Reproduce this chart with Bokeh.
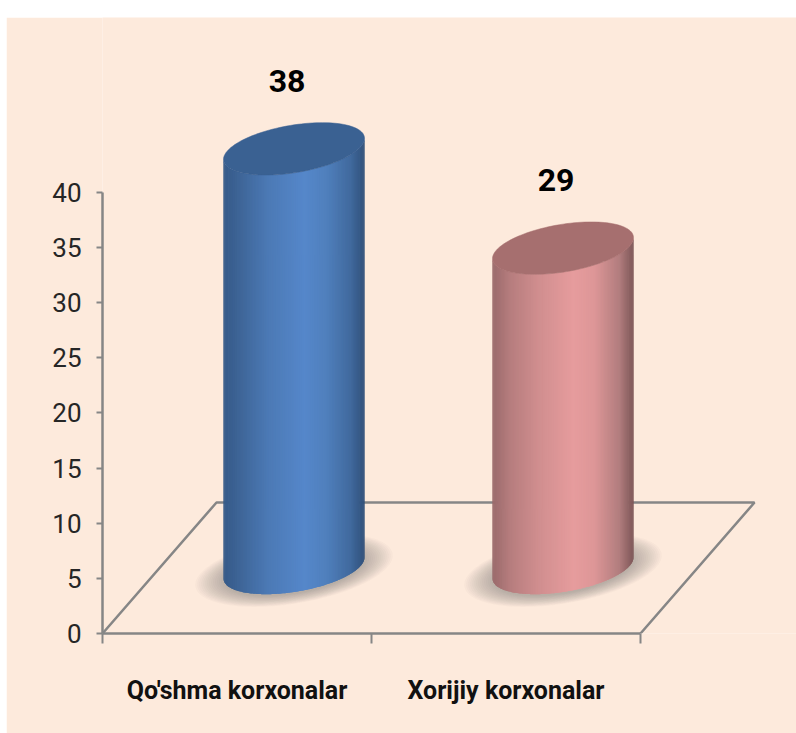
import numpy as np
from bokeh.plotting import figure
from bokeh.models import Range1d, FixedTicker, LinearAxis
from bokeh.core.properties import value
from bokeh.embed import file_html
from bokeh.resources import INLINE

categories = ["Qo'shma korxonalar", "Xorijiy korxonalar"]
values = [38, 29]
y_ticks = [0, 5, 10, 15, 20, 25, 30, 35, 40]

PEACH = "#fdeadc"
AXIS = "#868686"
FONT = "Roboto"

# pixel scale of the plot
PX_X = 269.0   # px per category
PX_Y = 11.03   # px per value unit
FRAME_W, FRAME_H = 694, 616

# floor depth and cylinder shape (px converted to data units)
floor_dx = 114 / PX_X
floor_dy = 131 / PX_Y
rad_x = 70.5 / PX_X
tilt = 10.5 / PX_Y
rad_y = 24.0 / PX_Y

# gradient stops: position across the cylinder (-1..1) -> colour
stops_u = [-1.0, -0.75, -0.35, 0.15, 0.45, 0.8, 1.0]
body_stops = [
    ["#355a88", "#3f6699", "#4c7ab6", "#5587ca", "#5080bd", "#416a9e", "#30507a"],
    ["#9a6a6b", "#b67d7e", "#d08e8f", "#e69c9d", "#dd9697", "#b17d7e", "#7d5657"],
]
cap_colors = ["#3a6192", "#a66f6f"]


def hex2rgb(c):
    return np.array([int(c[i:i + 2], 16) for i in (1, 3, 5)], float)


def grad(stops, u):
    arr = np.array([hex2rgb(s) for s in stops])
    rgb = [np.interp(u, stops_u, arr[:, k]) for k in range(3)]
    return "#%02x%02x%02x" % tuple(int(round(v)) for v in rgb)


p = figure(
    width=790, height=716, output_backend="svg", toolbar_location=None,
    x_range=Range1d(0, FRAME_W / PX_X), y_range=Range1d(0, FRAME_H / PX_Y),
    x_axis_location=None, y_axis_location=None,
    min_border_left=96, min_border_right=0, min_border_top=0, min_border_bottom=100,
    background_fill_color=PEACH, border_fill_color=PEACH, outline_line_color=None,
)
p.margin = (17, 0, 0, 6)
p.grid.visible = False

# floor outline
n_cat = len(categories)
p.line([0, floor_dx, n_cat + floor_dx, n_cat], [0, floor_dy, floor_dy, 0],
       line_color=AXIS, line_width=2.5)

# axes
yax = LinearAxis(ticker=FixedTicker(ticks=y_ticks), bounds=(0, 40))
yax.axis_line_color = AXIS
yax.axis_line_width = 2.5
yax.major_tick_line_color = AXIS
yax.major_tick_line_width = 2
yax.major_tick_in = 0
yax.major_tick_out = 6
yax.minor_tick_line_color = None
yax.major_label_text_font = FONT
yax.major_label_text_font_size = "26px"
yax.major_label_text_color = "#262626"
yax.major_label_standoff = 15
p.add_layout(yax, "left")

centers = [i + 0.5 for i in range(n_cat)]
xax = LinearAxis(ticker=FixedTicker(ticks=centers, minor_ticks=list(range(n_cat + 1))),
                 bounds=(0, n_cat))
xax.major_label_overrides = {c: t for c, t in zip(centers, categories)}
xax.axis_line_color = AXIS
xax.axis_line_width = 2.5
xax.major_tick_line_color = None
xax.major_tick_in = 0
xax.major_tick_out = 0
xax.minor_tick_line_color = AXIS
xax.minor_tick_line_width = 2
xax.minor_tick_in = 0
xax.minor_tick_out = 10
xax.major_label_text_font = FONT
xax.major_label_text_font_size = "25px"
xax.major_label_text_font_style = "bold"
xax.major_label_text_color = "#111111"
xax.major_label_standoff = 32
p.add_layout(xax, "below")

# cylinders
th_full = np.linspace(0, 2 * np.pi, 121)
th_arc = np.linspace(np.pi, 0, 121)
for i, v in enumerate(values):
    cx = centers[i] + floor_dx / 2
    y_base = floor_dy / 2
    y_top = y_base + v

    # soft shadow on the floor
    for k in range(16):
        s = 1.40 - k * 0.028
        p.patch(cx + rad_x * s * np.cos(th_full),
                y_base - 0.2 + tilt * s * np.cos(th_full) + rad_y * s * np.sin(th_full),
                fill_color="#6b6050", fill_alpha=0.03, line_color=None)

    # body as thin vertical strips carrying the shading; each strip runs under the next one
    u = np.cos(th_arc)
    lower = -rad_y * np.sin(th_arc) + tilt * u
    xs, ys, cols = [], [], []
    for j in range(len(th_arc) - 1):
        e = min(j + 3, len(th_arc))
        xr = cx + rad_x * u[j:e]
        xs.append(np.concatenate([xr, xr[::-1]]))
        ys.append(np.concatenate([y_top + lower[j:e], (y_base + lower[j:e])[::-1]]))
        cols.append(grad(body_stops[i], (u[j] + u[j + 1]) / 2))
    p.patches(xs, ys, fill_color=cols, line_color=None)

    # top cap
    p.patch(cx + rad_x * np.cos(th_full),
            y_top + tilt * np.cos(th_full) + rad_y * np.sin(th_full),
            fill_color=cap_colors[i], line_color=cap_colors[i], line_width=0.5)

    # value label
    p.text([cx - 7 / PX_X], [v + 12.1], text=[str(v)], text_align="center",
           text_baseline="alphabetic", text_font=value(FONT), text_font_style="bold",
           text_font_size="32px", text_color="#000000")

open("out.html", "w").write(file_html(p, INLINE))
